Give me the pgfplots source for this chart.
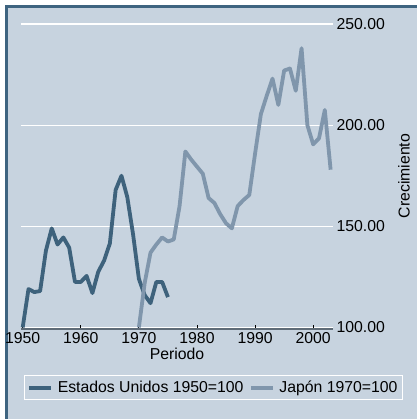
\documentclass[border=0pt]{standalone}
\usepackage{fontspec}
\setmainfont{Liberation Sans}
\usepackage{pgfplots}
\pgfplotsset{compat=1.18}
\definecolor{bgc}{RGB}{199,211,223}
\definecolor{framec}{RGB}{62,100,128}
\definecolor{usc}{RGB}{62,98,124}
\definecolor{jpc}{RGB}{128,150,172}
\definecolor{axc}{RGB}{95,108,120}
\begin{document}
\begin{tikzpicture}[font=\fontsize{15.8bp}{19bp}\selectfont]
\path[use as bounding box] (0bp,0bp) rectangle (417bp,419bp);
\fill[white] (0bp,0bp) rectangle (417bp,419bp);
\fill[bgc] (5bp,0bp) rectangle (417bp,414bp);
\fill[framec] (5bp,411bp) rectangle (417bp,414bp);
\fill[framec] (5bp,0bp) rectangle (8bp,414bp);
\begin{axis}[
  at={(21bp,89.9bp)}, anchor=south west,
  scale only axis, width=312bp, height=309.15bp,
  xmin=1949.71, xmax=2003.41, ymin=99.2, ymax=252,
  clip=false,
  axis x line*=bottom, axis y line*=right,
  x axis line style={draw=axc, line width=1.7bp, -},
  y axis line style={draw=none},
  xtick={1950,1960,1970,1980,1990,2000},
  ytick={100,150,200,250},
  tick align=inside,
  major tick length=4bp,
  xtick style={black, line width=0.8bp},
  ytick style={draw=none},
  ymajorgrids,
  grid style={white, line width=1.3bp},
  /pgf/number format/assume math mode=true,
  xticklabel style={/pgf/number format/1000 sep={}},
  yticklabel style={/pgf/number format/.cd, fixed, fixed zerofill, precision=2},
  xlabel={Periodo}, ylabel={Crecimiento},
  xlabel style={at={(axis description cs:0.5,-0.0805)}, anchor=center},
  ylabel style={at={(axis description cs:1.2276,0.495)}, anchor=center},
  legend style={at={(axis description cs:0.617,-0.19)}, anchor=center,
    draw=white, line width=0.9bp, fill=none, legend columns=2,
    /tikz/every odd column/.append style={column sep=2.5bp},
    /tikz/every even column/.append style={column sep=3.5bp},
    inner xsep=3bp, inner ysep=3.5bp},
  legend image code/.code={\draw[#1, line cap=butt] (0bp,0bp) -- (22bp,0bp);},
]
\addplot[usc, line width=3.8bp, line join=round] table {
1950 100
1951 119
1952 117.5
1953 118
1954 138
1955 149
1956 141
1957 144.5
1958 139.5
1959 122.5
1960 122.5
1961 125.5
1962 117
1963 127.5
1964 133
1965 141.5
1966 168
1967 175
1968 164.5
1969 146
1970 124
1971 116
1972 112
1973 122.5
1974 122.5
1975 115
};
\addlegendentry{Estados Unidos 1950=100}
\addplot[jpc, line width=3.8bp, line join=round] table {
1970 100
1971 122
1972 137
1973 141
1974 144.5
1975 142.5
1976 143.5
1977 160
1978 187
1979 183
1980 179.5
1981 176
1982 164
1983 161.5
1984 156
1985 151.5
1986 149
1987 160
1988 163
1989 165.5
1990 186
1991 205.5
1992 214.5
1993 223
1994 210
1995 227
1996 228
1997 217
1998 238
1999 200
2000 190.5
2001 193.5
2002 207.5
2003 178
};
\addlegendentry{Japón 1970=100}
\end{axis}
\end{tikzpicture}
\end{document}
